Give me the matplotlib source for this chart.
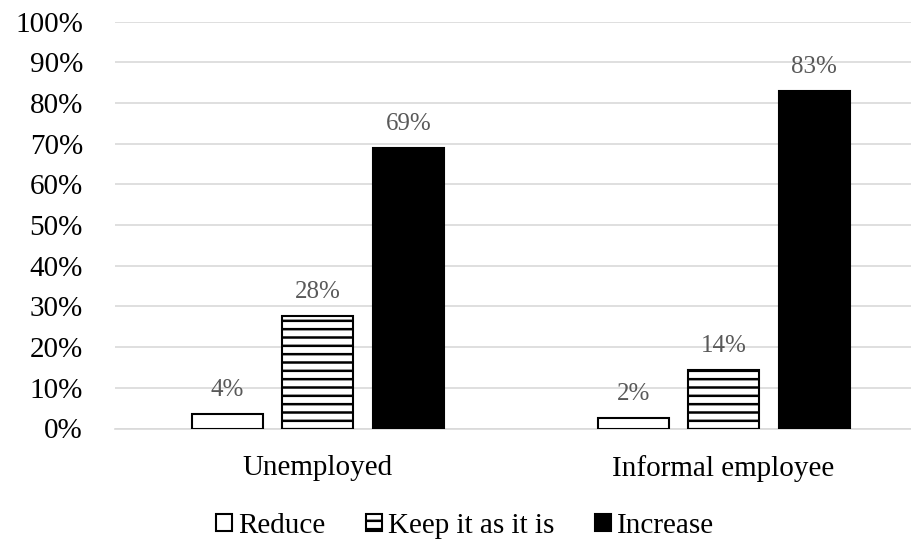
import numpy as np
import matplotlib
matplotlib.use("Agg")
import matplotlib.pyplot as plt

plt.rcParams['font.family'] = ['Liberation Serif', 'DejaVu Serif']
plt.rcParams['hatch.linewidth'] = 1.8

# data
categories = ["Unemployed", "Informal employee"]
series = ["Reduce", "Keep it as it is", "Increase"]
reduce_vals = [0.036, 0.026]
keep_vals = [0.277, 0.144]
increase_vals = [0.69, 0.83]
reduce_lbl = ["4%", "2%"]
keep_lbl = ["28%", "14%"]
increase_lbl = ["69%", "83%"]
yticks = [0, 0.1, 0.2, 0.3, 0.4, 0.5, 0.6, 0.7, 0.8, 0.9, 1.0]

fig = plt.figure(figsize=(9.12, 5.42), dpi=100)
# plot area runs a bit past the right edge, like the original crop
ax = fig.add_axes([115/912, 1 - 428.5/542, (926.5 - 115)/912, (428.5 - 21.7)/542])

x = np.arange(len(categories))
w = 0.175
off = 0.223

b1 = ax.bar(x - off, reduce_vals, w, facecolor="white", edgecolor="black", linewidth=1.5, label=series[0], zorder=3)
b2 = ax.bar(x, keep_vals, w, facecolor="white", edgecolor="black", hatch="--", linewidth=1.5, label=series[1], zorder=3)
b3 = ax.bar(x + off, increase_vals, w, facecolor="black", edgecolor="black", linewidth=1.5, label=series[2], zorder=3)

for bars, lbls in [(b1, reduce_lbl), (b2, keep_lbl), (b3, increase_lbl)]:
    for r, t in zip(bars, lbls):
        ax.annotate(t, (r.get_x() + r.get_width()/2, r.get_height()),
                    xytext=(0, 9), textcoords="offset points",
                    ha="center", va="bottom", fontsize=18, color="#595959")

ax.set_xlim(-0.5, 1.5)
ax.set_ylim(0, 1)
ax.set_yticks(yticks)
ax.set_yticklabels([f"{int(round(v*100))}%" for v in yticks])
ax.set_xticks(x)
ax.set_xticklabels(categories)
ax.tick_params(axis="y", length=0, pad=23, labelsize=21)
ax.tick_params(axis="x", length=0, pad=19, labelsize=21)
ax.grid(axis="y", color="#d9d9d9", linewidth=1.2, zorder=0)
ax.set_axisbelow(True)
for s in ["top", "right", "left"]:
    ax.spines[s].set_visible(False)
ax.spines["bottom"].set_color("#d9d9d9")
ax.spines["bottom"].set_linewidth(1.2)

fig.legend(handles=[b1, b2, b3], loc="center", bbox_to_anchor=(465/912, 16/542),
           ncol=3, frameon=False, fontsize=21, handlelength=0.55, handleheight=0.55,
           handletextpad=0.2, columnspacing=1.4, borderaxespad=0)

fig.savefig("out.png", dpi=100)
